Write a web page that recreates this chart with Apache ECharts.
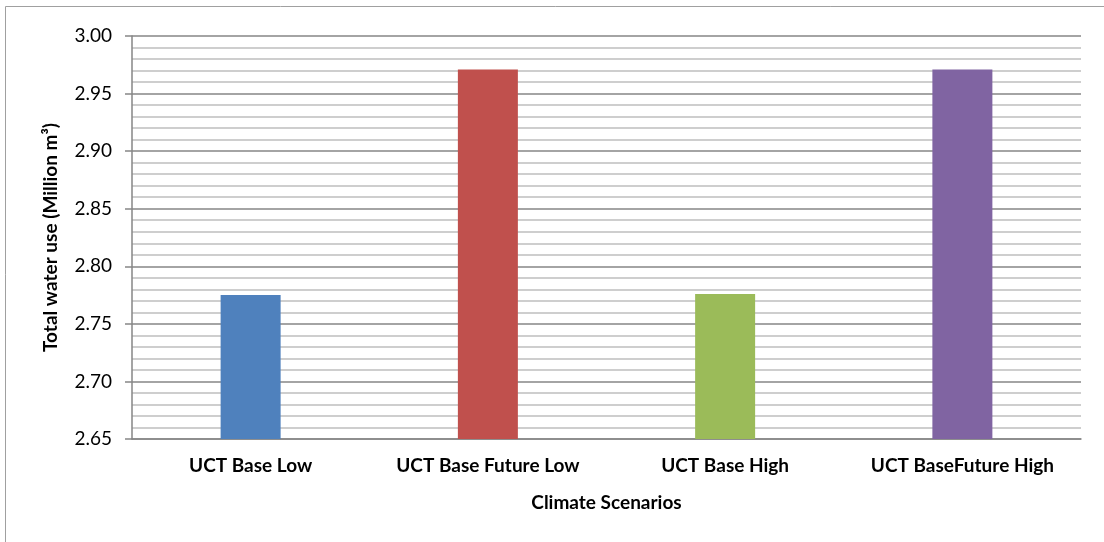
<!DOCTYPE html>
<html>
<head>
<meta charset="utf-8">
<script src="https://cdn.jsdelivr.net/npm/echarts@6/dist/echarts.min.js"></script>
<style>
html,body{margin:0;padding:0;background:#fff;}
#chart{width:1104px;height:542px;}
</style>
</head>
<body>
<div id="chart"></div>
<script>
const categories = ['UCT Base Low', 'UCT Base Future Low', 'UCT Base High', 'UCT BaseFuture High'];
const values = [2.775, 2.971, 2.776, 2.971];
const barColors = ['#4F81BD', '#C0504D', '#9BBB59', '#8064A2'];
const yTickLabels = ['2.65', '2.70', '2.75', '2.80', '2.85', '2.90', '2.95', '3.00'];
const xAxisTitle = 'Climate Scenarios';
const yAxisTitle = 'Total water use (Million m³)';

const FONT = 'Lato, "Open Sans", sans-serif';
const chart = echarts.init(document.getElementById('chart'));
chart.setOption({
  animation: false,
  backgroundColor: '#fff',
  graphic: [{
    type: 'rect',
    shape: { x: 5.5, y: 6.5, width: 1200, height: 700 },
    style: { fill: 'none', stroke: '#a0a0a0', lineWidth: 1 },
    silent: true
  }],
  grid: { left: 132, right: 23, top: 36, bottom: 103, containLabel: false },
  xAxis: {
    type: 'category',
    data: categories,
    name: xAxisTitle,
    nameLocation: 'middle',
    nameGap: 54,
    nameTextStyle: { fontFamily: FONT, fontWeight: 'bold', fontSize: 19, color: '#000' },
    axisLine: { show: true, lineStyle: { color: '#868686', width: 1.5 } },
    axisTick: { show: false },
    axisLabel: { fontFamily: FONT, fontWeight: 'bold', fontSize: 19, color: '#000', margin: 17, interval: 0 },
    splitLine: { show: false }
  },
  yAxis: {
    type: 'value',
    min: 2.65,
    max: 3.00,
    interval: 0.05,
    name: yAxisTitle,
    nameLocation: 'middle',
    nameGap: 72,
    nameRotate: 90,
    nameTextStyle: { fontFamily: FONT, fontWeight: 'bold', fontSize: 19, color: '#000' },
    axisLine: { show: true, lineStyle: { color: '#868686', width: 1.5 } },
    axisTick: { show: true, length: 7, lineStyle: { color: '#868686', width: 1.5 } },
    axisLabel: {
      fontFamily: FONT, fontSize: 19, color: '#000', margin: 20,
      formatter: function (v) {
        const i = Math.round((v - 2.65) / 0.05);
        return yTickLabels[i] !== undefined ? yTickLabels[i] : v.toFixed(2);
      }
    },
    splitLine: { show: true, lineStyle: { color: '#868686', width: 1.5 } },
    minorTick: { show: false, splitNumber: 5 },
    minorSplitLine: { show: true, lineStyle: { color: '#bfbfbf', width: 1.5 } }
  },
  series: [{
    type: 'bar',
    barWidth: 60,
    data: values.map((v, i) => ({ value: v, itemStyle: { color: barColors[i] } }))
  }]
});
</script>
</body>
</html>
